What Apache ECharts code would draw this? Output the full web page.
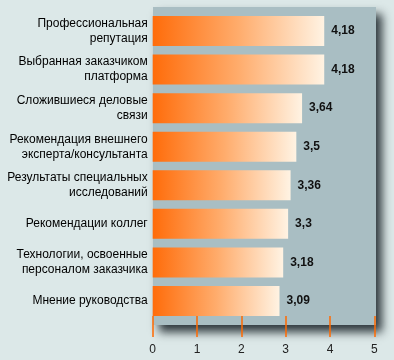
<!DOCTYPE html>
<html>
<head>
<meta charset="utf-8">
<script src="https://cdn.jsdelivr.net/npm/echarts@6/dist/echarts.min.js"></script>
<style>
html,body{margin:0;padding:0;background:#dce8e8;}
#chart{width:394px;height:360px;}
</style>
</head>
<body>
<div id="chart"></div>
<script>
var categories = [
  'Профессиональная\nрепутация',
  'Выбранная заказчиком\nплатформа',
  'Сложившиеся деловые\nсвязи',
  'Рекомендация внешнего\nэксперта/консультанта',
  'Результаты специальных\nисследований',
  'Рекомендации коллег',
  'Технологии, освоенные\nперсоналом заказчика',
  'Мнение руководства'
];
var values = [4.18, 4.18, 3.64, 3.5, 3.36, 3.3, 3.18, 3.09];
var tickMin = 0, tickMax = 5, tickStep = 1;

var chart = echarts.init(document.getElementById('chart'), null, {renderer: 'canvas'});
var option = {
  backgroundColor: '#dce8e8',
  animation: false,
  grid: [
    {
      left: 153, right: 18, top: 7, bottom: 35,
      show: true, backgroundColor: '#a9bec3', borderWidth: 0,
      shadowColor: 'rgba(15,25,30,0.85)', shadowBlur: 9, shadowOffsetX: 6, shadowOffsetY: 7,
      outerBoundsMode: 'none'
    },
    {
      left: 152.7, right: 19.7, top: 11.7, bottom: 39.7,
      outerBoundsMode: 'none'
    }
  ],
  xAxis: [
    {
      gridIndex: 1, type: 'value', min: tickMin, max: tickMax, interval: tickStep,
      position: 'bottom', offset: 16.7,
      axisLine: {show: false},
      axisTick: {show: true, inside: true, length: 21, lineStyle: {color: '#ff6a00', width: 1.5}},
      axisLabel: {margin: 7, color: '#222', fontSize: 12, fontFamily: 'Liberation Sans'},
      splitLine: {show: false}
    },
    {
      gridIndex: 1, type: 'value', min: 0, max: 5.40, show: false
    },
    {
      gridIndex: 0, type: 'value', show: false
    }
  ],
  yAxis: [
    {
      gridIndex: 1, type: 'category', data: categories, inverse: true,
      axisLine: {show: false}, axisTick: {show: false}, splitLine: {show: false},
      axisLabel: {
        margin: 5, align: 'right', color: '#000', fontSize: 12, lineHeight: 15,
        fontFamily: 'Liberation Sans'
      }
    },
    {
      gridIndex: 0, type: 'category', show: false
    }
  ],
  series: [
    {
      type: 'bar', xAxisIndex: 1, yAxisIndex: 0, data: values, barWidth: 30,
      itemStyle: {
        color: new echarts.graphic.LinearGradient(0, 0, 1, 0, [
          {offset: 0, color: '#ff6c0a'},
          {offset: 0.5, color: '#ffac6c'},
          {offset: 1, color: '#fff3e3'}
        ])
      },
      label: {
        show: true, position: 'right', distance: 7,
        formatter: function (p) { return String(p.value).replace('.', ','); },
        fontWeight: 'bold', fontSize: 12, color: '#111',
        fontFamily: 'Liberation Sans'
      }
    }
  ]
};
chart.setOption(option);
</script>
</body>
</html>
